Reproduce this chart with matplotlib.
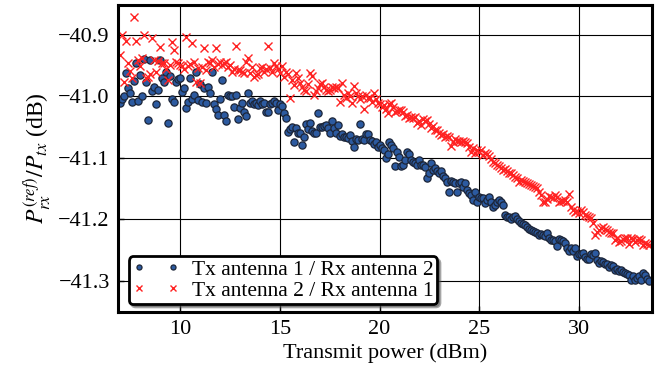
import matplotlib
matplotlib.use('Agg')
import matplotlib.pyplot as plt
import numpy as np

# 发射功率扫描 7.0 ~ 33.5 dBm，步长 0.1
tx_power = np.round(np.arange(7.0, 33.55, 0.1), 1)

# Tx antenna 1 / Rx antenna 2 (蓝色圆点)
tx1_rx2 = [
    -41.010, -41.004, -41.000, -40.962, -40.986, -40.995, -41.009, -40.975, -40.946, -41.008,  # 7
    -40.965, -41.000, -40.940, -40.976, -41.038, -40.941, -40.992, -40.984, -41.012, -40.989,  # 8
    -40.941, -40.970, -40.976, -40.960, -41.043, -40.967, -41.005, -41.009, -40.976, -40.972,  # 9
    -40.970, -40.993, -40.987, -41.019, -41.009, -40.970, -41.005, -40.998, -40.960, -41.006,  # 10
    -40.980, -41.009, -40.986, -41.010, -40.985, -40.995, -40.960, -41.012, -41.020, -41.030,  # 11
    -41.005, -40.973, -41.030, -41.040, -40.998, -40.999, -41.000, -41.017, -40.997, -41.037,  # 12
    -41.019, -41.010, -41.025, -41.032, -40.995, -41.010, -41.008, -41.012, -41.010, -41.014,  # 13
    -41.008, -41.013, -41.010, -41.025, -41.026, -41.012, -41.010, -41.008, -41.011, -41.022,  # 14
    -41.012, -41.015, -41.027, -41.035, -41.058, -41.053, -41.050, -41.074, -41.052, -41.060,  # 15
    -41.059, -41.079, -41.066, -41.045, -41.053, -41.043, -41.057, -41.059, -41.060, -41.027,  # 16
    -41.050, -41.050, -41.049, -41.047, -41.052, -41.059, -41.040, -41.052, -41.060, -41.047,  # 17
    -41.064, -41.062, -41.066, -41.066, -41.067, -41.063, -41.072, -41.082, -41.070, -41.071,  # 18
    -41.045, -41.069, -41.071, -41.061, -41.062, -41.071, -41.073, -41.077, -41.075, -41.082,  # 19
    -41.079, -41.084, -41.087, -41.100, -41.094, -41.074, -41.079, -41.084, -41.114, -41.090,  # 20
    -41.098, -41.113, -41.111, -41.103, -41.091, -41.094, -41.103, -41.106, -41.108, -41.111,  # 21
    -41.104, -41.111, -41.112, -41.115, -41.133, -41.125, -41.108, -41.120, -41.117, -41.122,  # 22
    -41.125, -41.121, -41.129, -41.133, -41.139, -41.155, -41.138, -41.139, -41.141, -41.155,  # 23
    -41.141, -41.140, -41.147, -41.141, -41.152, -41.157, -41.160, -41.168, -41.156, -41.171,  # 24
    -41.163, -41.165, -41.166, -41.173, -41.168, -41.163, -41.171, -41.180, -41.177, -41.171,  # 25
    -41.168, -41.171, -41.177, -41.193, -41.196, -41.197, -41.200, -41.196, -41.194, -41.200,  # 26
    -41.203, -41.206, -41.207, -41.210, -41.213, -41.216, -41.217, -41.219, -41.220, -41.223,  # 27
    -41.226, -41.224, -41.225, -41.227, -41.223, -41.230, -41.233, -41.234, -41.236, -41.243,  # 28
    -41.232, -41.234, -41.235, -41.238, -41.247, -41.251, -41.247, -41.252, -41.246, -41.260,  # 29
    -41.257, -41.256, -41.255, -41.262, -41.264, -41.265, -41.257, -41.258, -41.254, -41.266,  # 30
    -41.271, -41.268, -41.270, -41.272, -41.273, -41.278, -41.274, -41.276, -41.283, -41.281,  # 31
    -41.284, -41.283, -41.285, -41.287, -41.289, -41.290, -41.298, -41.292, -41.298, -41.295,  # 32
    -41.292, -41.299, -41.288, -41.290, -41.297, -41.300,                                      # 33
]

# Tx antenna 2 / Rx antenna 1 (红色叉)
tx2_rx1 = [
    -40.932, -40.900, -40.977, -40.910, -40.946, -40.958, -40.970, -40.871, -40.910, -40.941,  # 7
    -40.950, -40.938, -40.900, -40.970, -40.968, -40.963, -40.905, -40.941, -40.960, -40.942,  # 8
    -40.920, -40.945, -40.946, -40.955, -40.973, -40.949, -40.911, -40.924, -40.944, -40.945,  # 9
    -40.949, -40.951, -40.955, -40.903, -40.950, -40.948, -40.913, -40.944, -40.977, -40.954,  # 10
    -40.978, -40.953, -40.921, -40.957, -40.944, -40.946, -40.941, -40.952, -40.921, -40.948,  # 11
    -40.944, -40.949, -40.946, -40.944, -40.953, -40.949, -40.960, -40.955, -40.918, -40.957,  # 12
    -40.957, -40.960, -40.962, -40.944, -40.937, -40.962, -40.952, -40.968, -40.965, -40.963,  # 13
    -40.954, -40.952, -40.961, -40.955, -40.918, -40.954, -40.961, -40.946, -40.950, -40.955,  # 14
    -40.962, -40.950, -40.968, -40.960, -40.963, -41.002, -40.973, -40.981, -40.962, -40.970,  # 15
    -40.978, -40.985, -40.989, -40.992, -40.980, -40.962, -40.967, -40.998, -40.992, -40.986,  # 16
    -40.980, -40.978, -40.985, -40.990, -40.992, -40.990, -40.985, -40.987, -40.985, -40.987,  # 17
    -41.009, -40.978, -40.998, -41.003, -40.995, -40.999, -41.011, -40.983, -40.995, -41.000,  # 18
    -41.005, -41.000, -41.020, -40.998, -41.003, -41.002, -41.009, -40.995, -41.005, -41.011,  # 19
    -41.012, -41.017, -41.014, -41.020, -41.027, -41.013, -41.011, -41.018, -41.025, -41.024,  # 20
    -41.022, -41.022, -41.025, -41.032, -41.030, -41.035, -41.033, -41.035, -41.033, -41.043,  # 21
    -41.040, -41.046, -41.037, -41.040, -41.038, -41.045, -41.051, -41.048, -41.054, -41.055,  # 22
    -41.059, -41.063, -41.061, -41.066, -41.065, -41.066, -41.080, -41.074, -41.069, -41.072,  # 23
    -41.072, -41.074, -41.073, -41.074, -41.076, -41.082, -41.090, -41.084, -41.092, -41.087,  # 24
    -41.090, -41.088, -41.095, -41.092, -41.094, -41.097, -41.102, -41.106, -41.108, -41.111,  # 25
    -41.114, -41.117, -41.120, -41.118, -41.122, -41.125, -41.125, -41.128, -41.131, -41.133,  # 26
    -41.139, -41.136, -41.138, -41.139, -41.141, -41.142, -41.144, -41.145, -41.147, -41.149,  # 27
    -41.155, -41.160, -41.172, -41.172, -41.167, -41.162, -41.164, -41.166, -41.160, -41.164,  # 28
    -41.172, -41.170, -41.170, -41.168, -41.172, -41.159, -41.180, -41.185, -41.188, -41.186,  # 29
    -41.190, -41.185, -41.188, -41.193, -41.195, -41.196, -41.198, -41.206, -41.225, -41.220,  # 30
    -41.217, -41.214, -41.212, -41.216, -41.218, -41.220, -41.222, -41.222, -41.233, -41.230,  # 31
    -41.237, -41.235, -41.232, -41.230, -41.231, -41.240, -41.230, -41.232, -41.237, -41.233,  # 32
    -41.232, -41.234, -41.241, -41.238, -41.240, -41.241,                                      # 33
]

labels = ['Tx antenna 1 / Rx antenna 2', 'Tx antenna 2 / Rx antenna 1']

plt.rcParams['font.family'] = ['Liberation Serif', 'DejaVu Serif']
plt.rcParams['mathtext.fontset'] = 'stix'

fig = plt.figure(figsize=(6.6, 3.73), dpi=100)
ax = fig.add_axes([0.179, 0.164, 0.809, 0.823])

ax.plot(tx_power, tx1_rx2, linestyle='none', marker='o', markersize=5.2,
        markerfacecolor='#2c5aa0', markeredgecolor='#1c2538', markeredgewidth=0.9,
        label=labels[0])
ax.plot(tx_power, tx2_rx1, linestyle='none', marker='x', markersize=5.3,
        color='#ff2222', markeredgewidth=1.0, label=labels[1])

ax.set_xlim(6.9, 33.66)
ax.set_ylim(-41.3504, -40.8512)
ax.set_xticks([10, 15, 20, 25, 30])
ax.set_yticks([-40.9, -41.0, -41.1, -41.2, -41.3])
ax.grid(True, color='black', linewidth=0.8)
ax.set_axisbelow(True)
ax.tick_params(direction='in', length=4, width=1, labelsize=16, pad=6)
for s in ax.spines.values():
    s.set_linewidth(2.2)

ax.set_xlabel('Transmit power (dBm)', fontsize=16, labelpad=3)
ax.set_ylabel(r'$P_{rx}^{(ref)}/P_{tx}$ (dB)', fontsize=17, labelpad=4)

leg = ax.legend(loc='lower left', bbox_to_anchor=(0.02, 0.025), numpoints=2,
                markerscale=0.7, fancybox=True, shadow=True, framealpha=1,
                edgecolor='black', fontsize=15.5, borderpad=0.15, labelspacing=0.05,
                handlelength=2.2, handletextpad=0.6, borderaxespad=0)
leg.get_frame().set_linewidth(2)

fig.savefig('out.png', dpi=100)
